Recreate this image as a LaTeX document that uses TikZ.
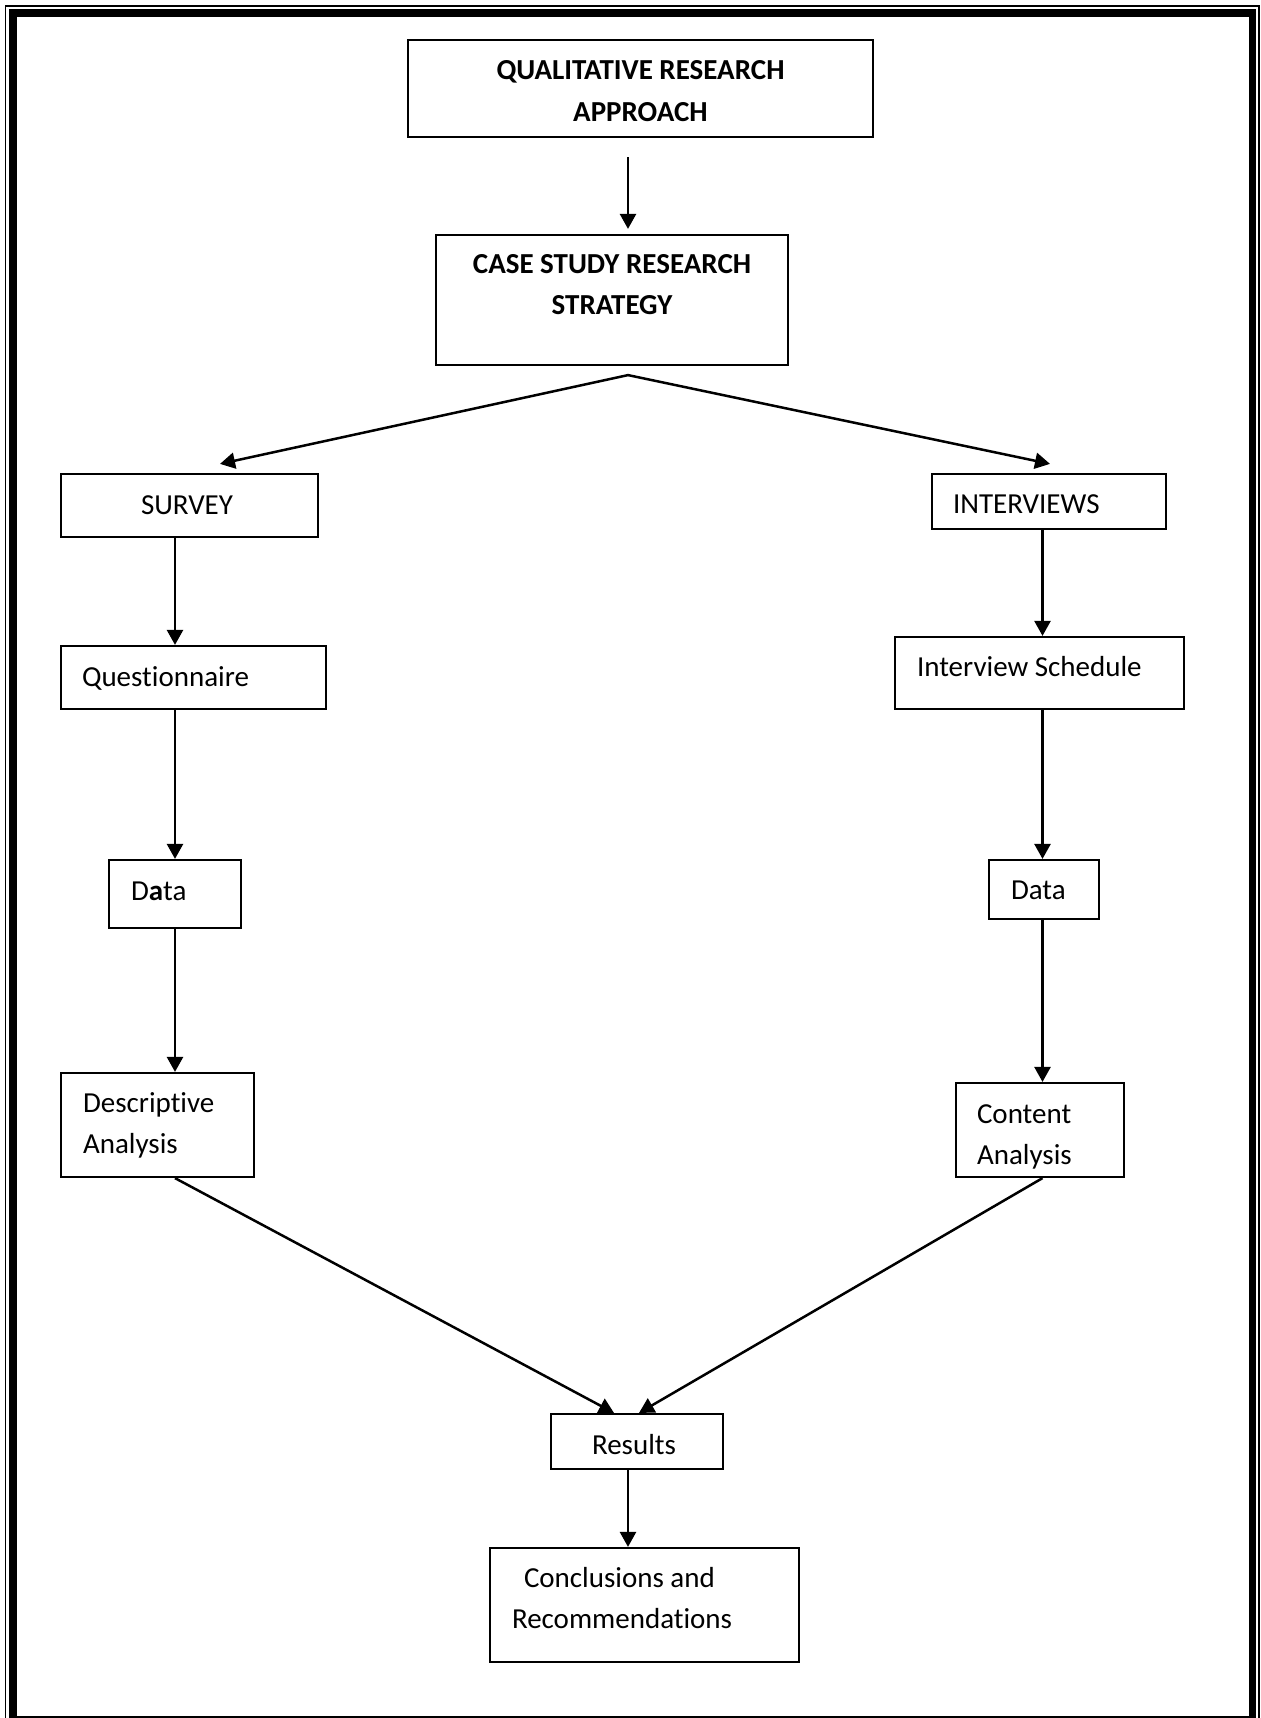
\documentclass[tikz,border=0pt]{standalone}
\usepackage{fontspec}
\setmainfont[Ligatures=NoCommon]{Carlito}
\usetikzlibrary{arrows.meta}
\newdimen\pxu \pxu=0.5pt
% #1 width px, #2 height px, #3 first baseline from top px, #4 alignment, #5 text
\newcommand\bxt[5]{\parbox[c][#2\pxu][t]{#1\pxu}{\fontsize{14.5}{20.5}\selectfont\vspace*{\dimexpr #3\pxu-14.35pt\relax}#4\strut #5}}
\newcommand\lft[1]{\raggedright\leftskip=#1\pxu\relax}
\tikzset{
  box/.style={draw, line width=1.1pt, inner sep=0pt},
  arr/.style={line width=1.25pt, -{Triangle[length=7.5pt,width=8pt]}}
}
\begin{document}
\begin{tikzpicture}[x=0.5pt,y=-0.5pt]
\useasboundingbox (0,0) rectangle (1260,1718);
% page border
\draw[line width=0.8pt] (5.5,6.2) rectangle (1259.2,1730);
\draw[line width=3.85pt] (12.9,13.2) rectangle (1252.5,1719.5);

% boxes
\node[box] (qual) at (640.5,88.5) {\bxt{465}{97}{40}{\centering}{\bfseries QUALITATIVE RESEARCH\\APPROACH}};
\node[box] (case) at (612,300) {\bxt{352}{130}{38}{\centering}{\bfseries CASE STUDY RESEARCH\\STRATEGY}};
\node[box] (survey) at (189.5,505.5) {\bxt{257}{63}{40}{\lft{80}}{SURVEY}};
\node[box] (interv) at (1049,501.5) {\bxt{234}{55}{39}{\lft{21}}{INTERVIEWS}};
\node[box] (quest) at (193.5,677.5) {\bxt{265}{63}{40}{\lft{21}}{Questionnaire}};
\node[box] (sched) at (1039.5,673) {\bxt{289}{72}{39}{\lft{22}}{Interview Schedule}};
\node[box] (dataL) at (175,894) {\bxt{132}{68}{40}{\lft{22}}{D\textbf{a}ta}};
\node[box] (dataR) at (1044,889.5) {\bxt{110}{59}{39}{\lft{22}}{Data}};
\node[box] (desc) at (157.5,1125) {\bxt{193}{104}{39}{\lft{22}}{Descriptive\\Analysis}};
\node[box] (cont) at (1040,1130) {\bxt{168}{94}{40}{\lft{21}}{Content\\Analysis}};
\node[box] (res) at (637,1441.5) {\bxt{172}{55}{40}{\lft{41}}{Results}};
\node[box] (conc) at (644.5,1605) {\bxt{309}{114}{39}{\lft{22}}{\hspace*{6pt}Conclusions and\\Recommendations}};

% connectors
\draw[arr] ([xshift=-6.25pt,yshift=-9.5pt]qual.south) -- ([xshift=8pt,yshift=2.5pt]case.north);
\draw[arr] ([xshift=8pt,yshift=-4.5pt]case.south) -- ([xshift=15.25pt,yshift=4.5pt]survey.north);
\draw[arr] ([xshift=8pt,yshift=-4.5pt]case.south) -- ([xshift=0.5pt,yshift=4.5pt]interv.north);
\draw[arr] ([xshift=-7.25pt]survey.south) -- ([xshift=-9.25pt]quest.north);
\draw[arr] ([xshift=-9.25pt]quest.south) -- (dataL.north);
\draw[arr] (dataL.south) -- ([xshift=8.75pt]desc.north);
\draw[arr] ([xshift=-3.25pt]interv.south) -- ([xshift=1.5pt]sched.north);
\draw[arr] ([xshift=1.5pt]sched.south) -- ([xshift=-0.75pt]dataR.north);
\draw[arr] ([xshift=-0.75pt]dataR.south) -- ([xshift=1.25pt]cont.north);
\draw[arr] ([xshift=8.75pt]desc.south) -- ([xshift=-11.5pt]res.north);
\draw[arr] ([xshift=1.25pt]cont.south) -- ([xshift=1pt]res.north);
\draw[arr] ([xshift=-4.5pt]res.south) -- ([xshift=-8.25pt]conc.north);
\end{tikzpicture}
\end{document}
